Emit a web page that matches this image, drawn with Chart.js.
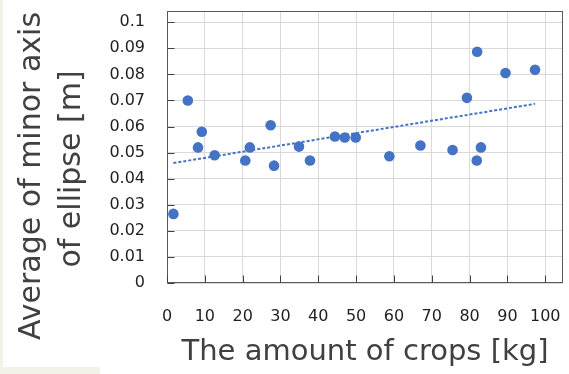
<!DOCTYPE html>
<html>
<head>
<meta charset="utf-8">
<script src="https://cdn.jsdelivr.net/npm/chart.js@4.4.0/dist/chart.umd.min.js"></script>
<style>
  body { margin: 0; background: #fff; }
  #wrap { position: relative; width: 569px; height: 374px; }
  .edge { position: absolute; background: #f2f2e9; }
</style>
</head>
<body>
<div id="wrap">
  <canvas id="cropChart" width="569" height="374"></canvas>
  <div class="edge" style="left:0;top:0;width:3px;height:374px"></div>
  <div class="edge" style="left:0;top:367px;width:100px;height:7px"></div>
</div>
<script>
// measured points (crop amount vs. mean minor axis)
const cropsKg = [1.7, 5.5, 8.2, 9.2, 12.6, 20.7, 21.9, 27.4, 28.3, 34.9, 37.8, 44.4, 47.0, 49.9, 58.8, 67.0, 75.5, 79.3, 82.0, 81.9, 83.0, 89.5, 97.3];
const minorAxisM = [0.0265, 0.070, 0.052, 0.058, 0.049, 0.047, 0.052, 0.0605, 0.045, 0.0523, 0.047, 0.0562, 0.0558, 0.0558, 0.0486, 0.0527, 0.051, 0.071, 0.0887, 0.047, 0.052, 0.0805, 0.0818];

// linear trend line at both ends
const trendKg = [1.7, 97.3];
const trendM = [0.046, 0.0687];

const xTicks = [0, 10, 20, 30, 40, 50, 60, 70, 80, 90, 100];
const yTicks = [0, 0.01, 0.02, 0.03, 0.04, 0.05, 0.06, 0.07, 0.08, 0.09, 0.1];
const yTickLabels = ['0', '0.01', '0.02', '0.03', '0.04', '0.05', '0.06', '0.07', '0.08', '0.09', '0.1'];

const xTitle = 'The amount of crops [kg]';
const yTitle = ['Average of minor axis', 'of ellipse [m]'];

const blue = '#4472c4';
const tickFont = { family: 'DejaVu Sans', size: 16 };

// keep the plot area where it is in the picture
function noPad(s) {
    s.paddingTop = 0; s.paddingBottom = 0; s.paddingLeft = 0; s.paddingRight = 0;
}

// plot frame, inside tick marks and axis titles
const plotFrame = {
    id: 'plotFrame',
    beforeDatasetsDraw(chart) {
        const { ctx, chartArea: a, scales: { x, y } } = chart;
        const l = Math.round(a.left) + 0.5, r = Math.round(a.right) - 0.5;
        const t = Math.round(a.top) + 0.5, b = Math.round(a.bottom) - 0.5;
        ctx.save();
        ctx.strokeStyle = '#595959';
        ctx.lineWidth = 1;
        ctx.strokeRect(l, t, r - l, b - t);
        ctx.beginPath();
        yTicks.forEach(v => {
            const py = Math.round(y.getPixelForValue(v)) + 0.5;
            ctx.moveTo(l, py); ctx.lineTo(l + 7, py);
        });
        xTicks.forEach(v => {
            const px = Math.round(x.getPixelForValue(v)) + 0.5;
            ctx.moveTo(px, b); ctx.lineTo(px, b - 7);
        });
        ctx.strokeStyle = '#404040';
        ctx.stroke();
        ctx.restore();
    },
    afterDraw(chart) {
        const ctx = chart.ctx;
        ctx.save();
        ctx.fillStyle = '#404040';
        ctx.font = '29px "DejaVu Sans"';
        ctx.textAlign = 'center';
        ctx.textBaseline = 'alphabetic';
        ctx.fillText(xTitle, 365, 360);
        ctx.font = '30px "DejaVu Sans"';
        [[40, 176], [80, 169]].forEach(([bx, cy], i) => {
            ctx.save();
            ctx.translate(bx, cy);
            ctx.rotate(-Math.PI / 2);
            ctx.fillText(yTitle[i], 0, 0);
            ctx.restore();
        });
        ctx.restore();
    }
};

const ctx = document.getElementById('cropChart').getContext('2d');
new Chart(ctx, {
    type: 'scatter',
    data: {
        datasets: [{
            label: 'data',
            data: cropsKg.map((v, i) => ({ x: v, y: minorAxisM[i] })),
            backgroundColor: blue,
            borderWidth: 0,
            pointRadius: 5.3
        }, {
            label: 'trend',
            data: trendKg.map((v, i) => ({ x: v, y: trendM[i] })),
            showLine: true,
            borderColor: blue,
            borderWidth: 2,
            borderDash: [3, 2],
            pointRadius: 0
        }]
    },
    options: {
        responsive: false,
        animation: false,
        layout: { padding: { top: 11, right: 6, left: 0, bottom: 0 } },
        plugins: { legend: { display: false }, tooltip: { enabled: false } },
        scales: {
            x: {
                type: 'linear', min: 0, max: 104.7,
                afterBuildTicks: s => { s.ticks = xTicks.map(v => ({ value: v })); },
                afterFit: s => { s.height = 374 - 283; noPad(s); },
                grid: { color: '#d9d9d9', drawTicks: false },
                border: { display: false },
                ticks: { font: tickFont, color: '#1f1f1f', padding: 24, maxRotation: 0, autoSkip: false }
            },
            y: {
                type: 'linear', min: 0, max: 0.1043,
                afterBuildTicks: s => { s.ticks = yTicks.map(v => ({ value: v })); },
                afterFit: s => { s.width = 167; noPad(s); },
                grid: { color: '#d9d9d9', drawTicks: false },
                border: { display: false },
                ticks: { font: tickFont, color: '#1f1f1f', padding: 22, autoSkip: false,
                         callback: (v, i) => yTickLabels[i] }
            }
        }
    },
    plugins: [plotFrame]
});
</script>
</body>
</html>
